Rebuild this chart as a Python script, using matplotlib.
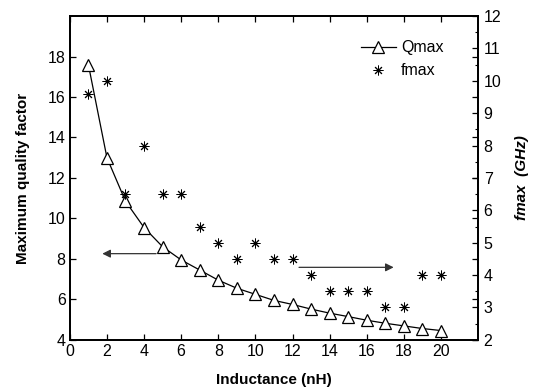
import numpy as np
import matplotlib.pyplot as plt
from matplotlib.ticker import MultipleLocator

plt.rcParams['font.family'] = ['Liberation Sans', 'DejaVu Sans']

# inductance sweep (nH)
L = np.arange(1, 21)
# maximum quality factor (left axis)
qmax = [17.6, 13.0, 10.85, 9.55, 8.6, 7.95, 7.45, 6.95, 6.55, 6.25,
        5.95, 5.75, 5.52, 5.32, 5.15, 4.97, 4.82, 4.69, 4.56, 4.46]
# frequency of max Q in GHz (right axis)
fmax = [9.6, 10.0, 6.5, 8.0, 6.5, 6.5, 5.5, 5.0, 4.5, 5.0,
        4.5, 4.5, 4.0, 3.5, 3.5, 3.5, 3.0, 3.0, 4.0, 4.0]

fig = plt.figure(figsize=(5.33, 3.92), dpi=100)
ax = fig.add_axes([0.131, 0.133, 0.766, 0.826])
ax2 = ax.twinx()

asterisk = (8, 2, 0)
l1, = ax.plot(L, qmax, '-', color='black', lw=0.9, marker='^', ms=9,
              mfc='white', mec='black', mew=0.9, label='Qmax')
l2, = ax2.plot(L, fmax, ls='none', marker=asterisk, ms=7, mec='black',
               mew=0.7, label='fmax')

ax.set_xlim(0, 22)
ax.set_ylim(4, 20)
ax2.set_ylim(2, 12)
ax.set_xticks(np.arange(0, 21, 2))
ax.set_yticks(np.arange(4, 19, 2))
ax2.set_yticks(np.arange(2, 13, 1))
ax2.yaxis.set_minor_locator(MultipleLocator(0.5))

ax.tick_params(direction='in', length=4, width=0.9, labelsize=11.5,
               top=True, right=True, pad=3)
ax2.tick_params(direction='in', length=4, width=0.9, labelsize=11.5, pad=4)
ax2.tick_params(which='minor', direction='in', length=2.5, width=0.8)
for a in (ax, ax2):
    for s in a.spines.values():
        s.set_linewidth(1.3)

ax.set_xlabel('Inductance (nH)', fontsize=11, fontweight='bold', labelpad=10)
ax.set_ylabel('Maximum quality factor', fontsize=11, fontweight='bold',
              labelpad=13)
ax2.set_ylabel('fmax  (GHz)', fontsize=11, fontweight='bold', style='italic',
               labelpad=10)

# arrows pointing to each curve's axis
ax.annotate('', xy=(1.6, 8.26), xytext=(4.8, 8.26),
            arrowprops=dict(arrowstyle='-|>', color='#333333', lw=0.9,
                            mutation_scale=12))
ax2.annotate('', xy=(17.6, 4.24), xytext=(12.2, 4.24),
             arrowprops=dict(arrowstyle='-|>', color='#333333', lw=0.9,
                             mutation_scale=12))

ax2.legend([l1, l2], ['Qmax', 'fmax'], loc='upper right', frameon=False,
           fontsize=11.5, bbox_to_anchor=(0.95, 0.97), handlelength=2.2,
           labelspacing=0.5, handletextpad=0.3)

fig.savefig('out.png', dpi=100)
